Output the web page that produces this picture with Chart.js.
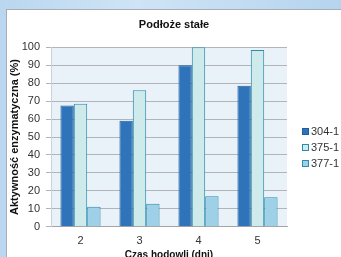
<!DOCTYPE html>
<html>
<head>
<meta charset="utf-8">
<script src="https://cdn.jsdelivr.net/npm/chart.js@4.4.1/dist/chart.umd.min.js"></script>
<style>
    html, body {
        margin: 0;
        padding: 0;
        width: 341px;
        height: 257px;
        overflow: hidden;
        background: linear-gradient(90deg, #b9d7ef, #cfe4f6 40%, #b5d4ee);
        font-family: "Liberation Sans", Arial, sans-serif;
    }
    #panel {
        position: absolute;
        left: 6px;
        top: 9px;
        width: 335px;
        height: 260px;
        background: #ffffff;
        border-left: 1px solid #a9adb2;
        border-top: 1px solid #a9adb2;
    }
    #chart-box {
        position: absolute;
        left: 0;
        top: 0;
        width: 334px;
        height: 252px;
    }
    #legend {
        position: absolute;
        left: 295px;
        top: 113px;
        font-size: 11px;
        color: #333333;
    }
    #legend div {
        height: 16px;
        line-height: 16px;
        white-space: nowrap;
    }
    #legend span {
        display: inline-block;
        width: 5px;
        height: 5px;
        margin-right: 2px;
        vertical-align: 0px;
    }
</style>
</head>
<body>
<div id="panel">
    <div id="chart-box"><canvas id="main-chart"></canvas></div>
    <div id="legend"></div>
</div>
<script>
const days = ["2", "3", "4", "5"];
const strains = ["304-1", "375-1", "377-1"];
const activity304 = [67.5, 59, 90, 78.5];
const activity375 = [68.5, 76, 100, 98.5];
const activity377 = [11.2, 12.8, 17, 16.5];
const yTicks = [0, 10, 20, 30, 40, 50, 60, 70, 80, 90, 100];

const fills = ["#2f74bb", "#cfeaea", "#9ed0e8"];
const borders = ["#1e5f9c", "#2a8cae", "#2a8cae"];

// light blue plot background
const plotBackground = {
    id: "plotBackground",
    beforeDraw(chart) {
        const { ctx, chartArea } = chart;
        ctx.save();
        ctx.fillStyle = "#e9f1f9";
        ctx.fillRect(chartArea.left, chartArea.top,
            chartArea.right - chartArea.left, chartArea.bottom - chartArea.top);
        ctx.restore();
    },
};

const series = [activity304, activity375, activity377];

const chartCanvas = document.getElementById("main-chart");
const mainChart = new Chart(chartCanvas, {
    type: "bar",
    data: {
        labels: days,
        datasets: strains.map((name, i) => ({
            label: name,
            data: series[i],
            backgroundColor: fills[i],
            borderColor: borders[i],
            borderWidth: 1,
            borderSkipped: "bottom",
            barPercentage: 1.0,
            categoryPercentage: 0.68,
        })),
    },
    options: {
        responsive: true,
        maintainAspectRatio: false,
        animation: false,
        layout: {
            padding: 0,
        },
        scales: {
            x: {
                grid: { display: false, drawTicks: false, tickLength: 0 },
                border: { display: true, color: "#a4a4a4", width: 1 },
                ticks: {
                    color: "#333333",
                    padding: 8,
                    font: { family: "Liberation Sans", size: 11 },
                },
                title: {
                    display: true,
                    text: "Czas hodowli (dni)",
                    color: "#111111",
                    font: { family: "Liberation Sans", size: 10, weight: "bold" },
                    padding: { top: -7, bottom: 1 },
                },
            },
            y: {
                min: 0,
                max: 100,
                afterBuildTicks(scale) {
                    scale.ticks = yTicks.map((v) => ({ value: v }));
                },
                afterFit(scale) {
                    scale.width = 44;
                },
                grid: {
                    color: "#b2b4b8",
                    lineWidth: 1,
                    tickLength: 5,
                },
                border: { display: true, color: "#c9d3de" },
                ticks: {
                    color: "#333333",
                    padding: 6,
                    font: { family: "Liberation Sans", size: 11 },
                },
                title: {
                    display: true,
                    text: "Aktywność enzymatyczna (%)",
                    color: "#111111",
                    font: { family: "Liberation Sans", size: 11, weight: "bold" },
                    padding: { top: 1, bottom: 0 },
                },
            },
            // empty axis on the right that leaves room for the legend
            legendSpace: {
                axis: "y",
                position: "right",
                display: true,
                min: 0,
                max: 100,
                afterFit(scale) {
                    scale.width = 54;
                },
                grid: { display: false },
                border: { display: false },
                ticks: { display: false },
            },
        },
        plugins: {
            title: {
                display: true,
                text: "Podłoże stałe",
                color: "#111111",
                font: { family: "Liberation Sans", size: 11, weight: "bold" },
                padding: { top: 8, bottom: 16 },
            },
            legend: { display: false },
            tooltip: { enabled: false },
        },
    },
    plugins: [plotBackground],
});

// legend built from the datasets
const legendBox = document.getElementById("legend");
mainChart.data.datasets.forEach((ds) => {
    const row = document.createElement("div");
    const swatch = document.createElement("span");
    swatch.style.background = ds.backgroundColor;
    swatch.style.border = "1px solid " + ds.borderColor;
    row.appendChild(swatch);
    row.appendChild(document.createTextNode(ds.label));
    legendBox.appendChild(row);
});
</script>
</body>
</html>
